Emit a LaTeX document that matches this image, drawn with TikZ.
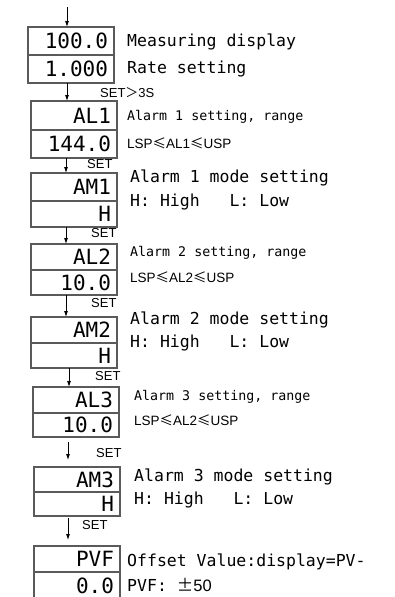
\documentclass[tikz,border=0pt]{standalone}
\usepackage{fontspec}
\usetikzlibrary{arrows.meta,positioning}
\newfontfamily\monofont{DejaVu Sans Mono}
\newfontfamily\narrowfont{Liberation Sans}
\newfontfamily\cjk{Noto Sans CJK SC}
\definecolor{framegray}{RGB}{90,90,90}

\begin{document}
\frenchspacing
\begin{tikzpicture}[x=1pt,y=-1pt,
	dispbox/.style={
		rectangle,
		draw=framegray,
		line width=2.5pt,
		outer sep=0pt,
		inner xsep=6pt,
		inner ysep=0pt,
		text width=74pt,
		align=right,
		minimum height=#1,
		font=\monofont\fontsize{21}{21}\selectfont
	},
	dispbox/.default=28pt,
	biglabel/.style={
		anchor=west,
		inner sep=0pt,
		font=\monofont\fontsize{16.5}{18}\selectfont
	},
	smalllabel/.style={
		anchor=west,
		inner sep=0pt,
		font=\monofont\fontsize{13.3}{15}\selectfont
	},
	rangelabel/.style={
		anchor=west,
		inner sep=0pt,
		font=\narrowfont\fontsize{13.5}{15}\selectfont
	},
	setlabel/.style={
		anchor=west,
		inner sep=0pt,
		font=\narrowfont\fontsize{13}{14}\selectfont
	},
	flow/.style={
		-{Latex[length=6pt,width=4pt]},
		line width=0.8pt
	}
	]
	\useasboundingbox (0,0) rectangle (394,597);
	
	% Display boxes
	\node[dispbox, anchor=north west] (hi1) at (28,27) {100.0};
	\node[dispbox, anchor=north] (lo1) at (hi1.south) {1.000};
	
	\node[dispbox=29pt, anchor=north west] (hi2) at (31,101) {AL1};
	\node[dispbox, anchor=north] (lo2) at (hi2.south) {144.0};
	
	\node[dispbox, anchor=north west] (hi3) at (31,173) {AM1};
	\node[dispbox=26pt, anchor=north] (lo3) at (hi3.south) {H};
	
	\node[dispbox=26pt, anchor=north west] (hi4) at (31,244) {AL2};
	\node[dispbox=25pt, anchor=north] (lo4) at (hi4.south) {10.0};
	
	\node[dispbox=26pt, anchor=north west] (hi5) at (31,317) {AM2};
	\node[dispbox=25pt, anchor=north] (lo5) at (hi5.south) {H};
	
	\node[dispbox=26pt, anchor=north west] (hi6) at (33,387) {AL3};
	\node[dispbox=24pt, anchor=north] (lo6) at (hi6.south) {10.0};
	
	\node[dispbox=25pt, anchor=north west] (hi7) at (34,467) {AM3};
	\node[dispbox=24pt, anchor=north] (lo7) at (hi7.south) {H};
	
	\node[dispbox=26pt, anchor=north west] (hi8) at (34,546) {PVF};
	\node[dispbox, anchor=north] (lo8) at (hi8.south) {0.0};
	
	% Flow arrows
	\coordinate (entry) at (67,7);
	\draw[flow] (entry) -- (entry |- hi1.north);
	\draw[flow] ([xshift=-4pt]lo1.south) -- ([xshift=-4pt]lo1.south |- hi2.north);
	\draw[flow] ([xshift=-8pt]lo2.south) -- ([xshift=-8pt]lo2.south |- hi3.north);
	\draw[flow] ([xshift=-8pt]lo3.south) -- ([xshift=-8pt]lo3.south |- hi4.north);
	\draw[flow] ([xshift=-8pt]lo4.south) -- ([xshift=-8pt]lo4.south |- hi5.north);
	\draw[flow] ([xshift=-5pt]lo5.south) -- ([xshift=-5pt]lo5.south |- hi6.north);
	\draw[flow, shorten <=5pt, shorten >=7pt] ([xshift=-8pt]lo6.south) -- ([xshift=-8pt]lo6.south |- hi7.north);
	\draw[flow, shorten <=2pt, shorten >=6pt] ([xshift=-9pt]lo7.south) -- ([xshift=-9pt]lo7.south |- hi8.north);
	
	% Key labels
	\node[setlabel] (set1) at (100,93) {SET{\cjk ＞}3S};
	\node[setlabel] (set2) at (87,164) {SET};
	\node[setlabel] (set3) at (91,233) {SET};
	\node[setlabel] (set4) at (91,303) {SET};
	\node[setlabel] (set5) at (95,376) {SET};
	\node[setlabel] (set6) at (96,453) {SET};
	\node[setlabel] (set7) at (82,525) {SET};
	
	% Descriptions
	\node[biglabel] (txt1a) at (127,42) {Measuring display};
	\node[biglabel] (txt1b) at (127,69) {Rate setting};
	
	\node[smalllabel] (txt2a) at (127,117) {Alarm 1 setting, range};
	\node[rangelabel] (txt2b) at (127,143) {LSP{\cjk ≤}AL1{\cjk ≤}USP};
	
	\node[biglabel] (txt3a) at (130,178) {Alarm 1 mode setting};
	\node[biglabel] (txt3b) at (130,202) {H: High\ \ \ L: Low};
	
	\node[smalllabel] (txt4a) at (130,253) {Alarm 2 setting, range};
	\node[rangelabel] (txt4b) at (130,277) {LSP{\cjk ≤}AL2{\cjk ≤}USP};
	
	\node[biglabel] (txt5a) at (130,320) {Alarm 2 mode setting};
	\node[biglabel] (txt5b) at (130,343) {H: High\ \ \ L: Low};
	
	\node[smalllabel] (txt6a) at (134,397) {Alarm 3 setting, range};
	\node[rangelabel] (txt6b) at (134,420) {LSP{\cjk ≤}AL2{\cjk ≤}USP};
	
	\node[biglabel] (txt7a) at (134,477) {Alarm 3 mode setting};
	\node[biglabel] (txt7b) at (134,500) {H: High\ \ \ L: Low};
	
	\node[biglabel] (txt8a) at (127,562) {Offset Value:display=PV-};
	\node[biglabel] (txt8b) at (127,585) {PVF: {\cjk ±}{\narrowfont 50}};
	
\end{tikzpicture}
\end{document}
